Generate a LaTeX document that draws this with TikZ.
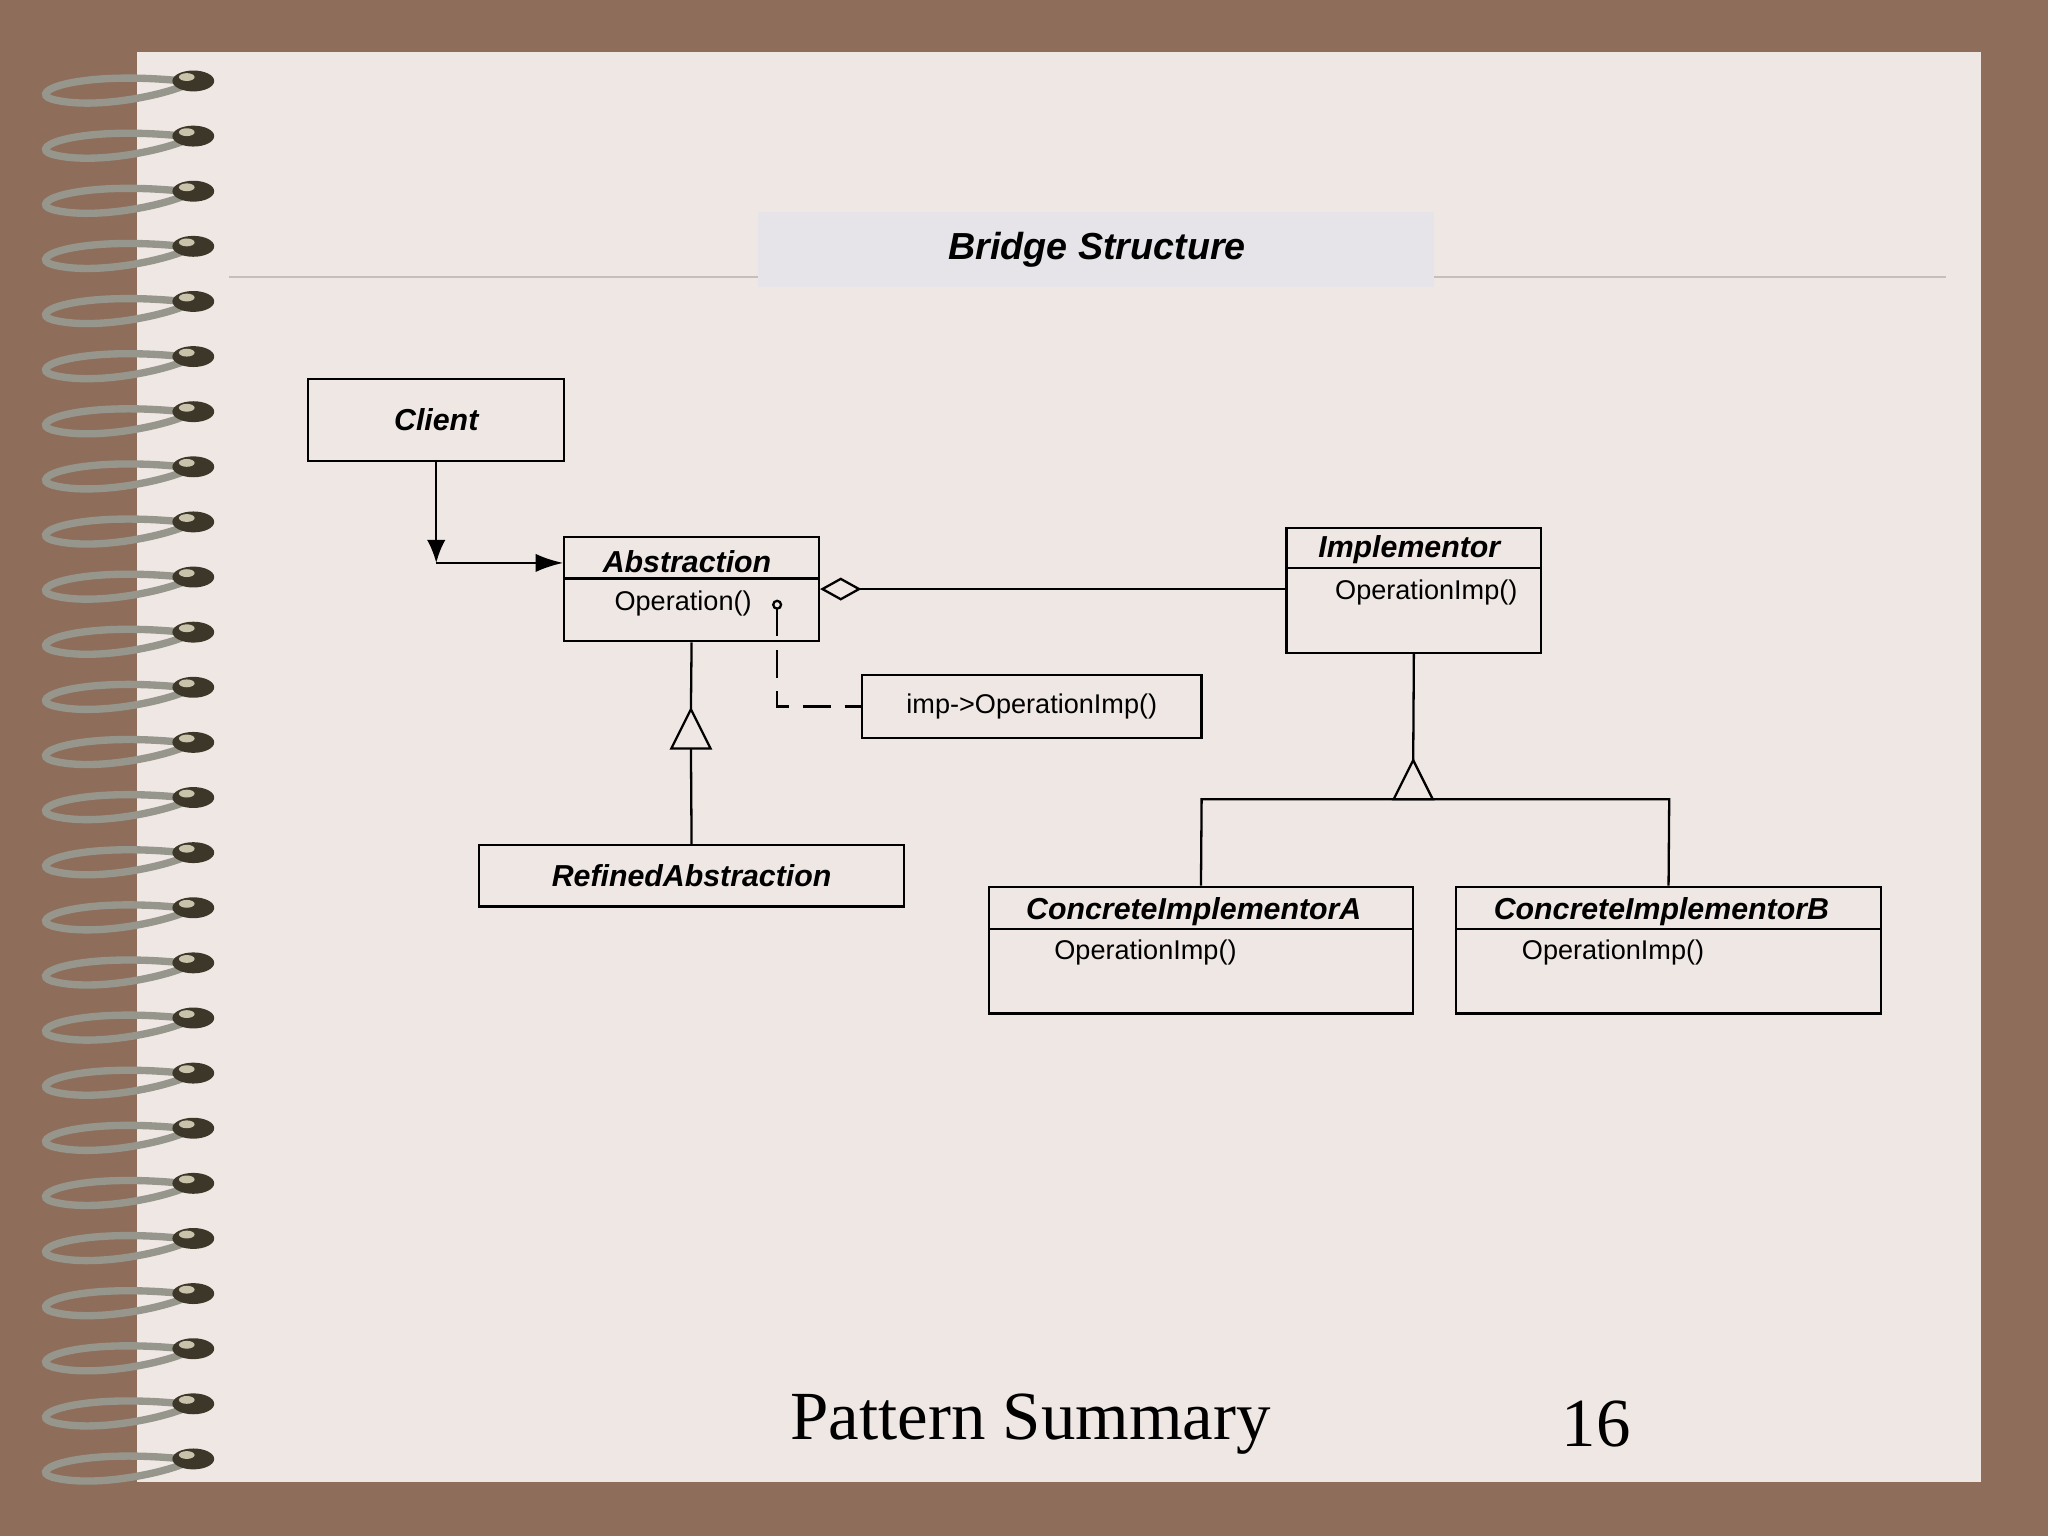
\documentclass[tikz,border=0pt]{standalone}
\usepackage{fontspec}
\setmainfont{Liberation Sans}
\newfontfamily\serifft{Liberation Serif}
\usetikzlibrary{arrows.meta}
\begin{document}
\begin{tikzpicture}[x=0.01cm,y=-0.01cm,
  box/.style={draw,line width=0.5pt,fill=none},
  tb/.style={font=\fontsize{6.6}{7}\selectfont\bfseries\itshape},
  op/.style={font=\fontsize{5.9}{7}\selectfont},
  ln/.style={line width=0.5pt}]
\useasboundingbox (0,0) rectangle (1568,1176);
\fill[fill={rgb,255:red,142;green,110;blue,90}] (0,0) rectangle (1568,1176);
\fill[fill={rgb,255:red,239;green,231;blue,228}] (105,40) rectangle (1517,1135);
% rings
\foreach \i in {0,...,25}{
  \pgfmathsetmacro\yy{62+\i*42.2}
  \draw[line width=1.6pt,color={rgb,255:red,150;green,150;blue,140}] (140,\yy) .. controls (60,\yy-8) and (20,\yy+8) .. (40,\yy+14) .. controls (70,\yy+22) and (120,\yy+12) .. (140,\yy+4);
  \fill[color={rgb,255:red,60;green,55;blue,40}] (148,\yy) ellipse (16 and 8);
  \fill[color={rgb,255:red,200;green,195;blue,170}] (143,\yy-3) ellipse (6 and 3);
}
% title
\fill[fill={rgb,255:red,230;green,228;blue,232}] (580,162) rectangle (1098,220);
\draw[line width=0.3pt,color={rgb,255:red,200;green,190;blue,185}] (175,212) -- (580,212) (1098,212) -- (1490,212);
\node[font=\fontsize{8.2}{9}\selectfont\bfseries\itshape] (title) at (840,191) {Bridge Structure};
% boxes
\node[box,minimum width=196*0.01cm,minimum height=63*0.01cm,tb] (client) at (334,321.5) {Client};
\node[box,minimum width=195*0.01cm,minimum height=80*0.01cm] (abs) at (529.5,451) {};
\draw[ln] (432,443) -- (627,443);
\node[tb] (absT) at (526,430) {Abstraction};
\node[op] (absO) at (523,462) {Operation()};
\node[box,minimum width=195*0.01cm,minimum height=96*0.01cm] (imp) at (1082.5,452) {};
\draw[ln] (985,435) -- (1180,435);
\node[tb] (impT) at (1079,421) {Implementor};
\node[op] (impO) at (1092,454) {OperationImp()};
\node[box,minimum width=260*0.01cm,minimum height=48*0.01cm,op] (note) at (790,541) {imp->OperationImp()};
\node[box,minimum width=325*0.01cm,minimum height=47*0.01cm,tb] (ref) at (529.5,670.5) {RefinedAbstraction};
\node[box,minimum width=325*0.01cm,minimum height=97*0.01cm] (cia) at (919.5,727.5) {};
\draw[ln] (757,711) -- (1082,711);
\node[tb] (ciaT) at (914,698) {ConcreteImplementorA};
\node[op] (ciaO) at (877,729) {OperationImp()};
\node[box,minimum width=325*0.01cm,minimum height=97*0.01cm] (cib) at (1277.5,727.5) {};
\draw[ln] (1115,711) -- (1440,711);
\node[tb] (cibT) at (1272,698) {ConcreteImplementorB};
\node[op] (cibO) at (1235,729) {OperationImp()};
% client arrow
\coordinate (c1) at (334,431);
\draw[ln,-{Latex[length=5pt,width=4pt]}] (client.south) -- (c1);
\draw[ln,-{Latex[length=6pt,width=4pt]}] (c1) -- (abs.west |- c1);
% aggregation
\draw[ln,{Diamond[open,length=9pt,width=5pt]}-] (abs.east |- 0,451) -- (imp.west |- 0,451);
% note
\coordinate (d0) at (595,463);
\coordinate (d1) at (595,541);
\draw[ln] (d0) circle (3);
\draw[ln,dashed,dash pattern=on 6pt off 3pt] (595,466) -- (d1) -- (note.west);
% inheritance abs
\coordinate (t1) at (529,543);
\draw[ln] (abs.south) -- (t1);
\draw[ln] (t1) -- (514,573) -- (544,573) -- cycle;
\draw[ln] (529,573) -- (ref.north);
% inheritance imp
\coordinate (t2) at (1082,582);
\draw[ln] (imp.south) -- (t2);
\draw[ln] (t2) -- (1067,612) -- (1097,612) -- cycle;
\draw[ln] (cia.north) -- (920,612) -- (1278,612) -- (cib.north);
% footer
\node[font=\serifft\fontsize{15}{17}\selectfont] (foot) at (789,1090) {Pattern Summary};
\node[font=\serifft\fontsize{15}{17}\selectfont] (num) at (1222,1090) {16};
\end{tikzpicture}
\end{document}
